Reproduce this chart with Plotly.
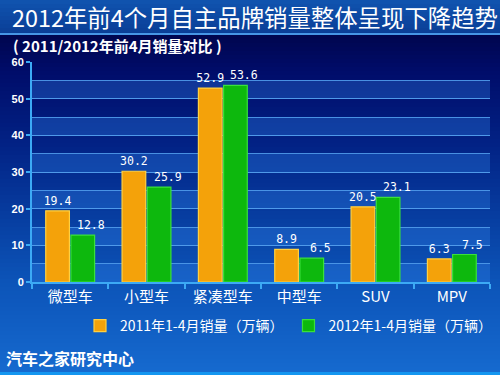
import plotly.graph_objects as go

categories = ["微型车", "小型车", "紧凑型车", "中型车", "SUV", "MPV"]
sales_2011 = [19.4, 30.2, 52.9, 8.9, 20.5, 6.3]
sales_2012 = [12.8, 25.9, 53.6, 6.5, 23.1, 7.5]
series_names = ["2011年1-4月销量（万辆）", "2012年1-4月销量（万辆）"]
y_ticks = [0, 10, 20, 30, 40, 50, 60]

W, H = 500, 375
L, R, T, B = 32, 10, 62, 93
PW, PH = W - L - R, H - T - B


def px_x(px):
    return (px - L) / PW


def px_y(py):
    return (H - B - py) / PH


def lerp_color(stops, py):
    for (y0, c0), (y1, c1) in zip(stops, stops[1:]):
        if y0 <= py <= y1:
            t = (py - y0) / (y1 - y0)
            return "rgb(%d,%d,%d)" % tuple(round(a + (b - a) * t) for a, b in zip(c0, c1))
    return "rgb(%d,%d,%d)" % stops[-1][1]


bg_stops = [
    (35, (0, 6, 78)),
    (70, (0, 12, 105)),
    (150, (2, 36, 135)),
    (230, (8, 66, 165)),
    (282, (12, 84, 184)),
    (330, (17, 95, 196)),
    (375, (22, 106, 208)),
]
title_stops = [(0, (16, 84, 176)), (33, (10, 62, 150))]

shapes = []
step = 4
for py in range(0, 34, step):
    shapes.append(dict(type="rect", xref="paper", yref="paper", layer="below",
                       x0=px_x(-5), x1=px_x(W + 5), y0=px_y(py + step + 0.5), y1=px_y(py),
                       fillcolor=lerp_color(title_stops, py + step / 2), line=dict(width=0)))
for py in range(35, H, step):
    shapes.append(dict(type="rect", xref="paper", yref="paper", layer="below",
                       x0=px_x(-5), x1=px_x(W + 5), y0=px_y(py + step + 0.5), y1=px_y(py),
                       fillcolor=lerp_color(bg_stops, py + step / 2), line=dict(width=0)))
shapes.append(dict(type="rect", xref="paper", yref="paper", layer="below",
                   x0=px_x(-5), x1=px_x(W + 5), y0=px_y(35), y1=px_y(33),
                   fillcolor="rgb(70,150,230)", line=dict(width=0)))
shapes.append(dict(type="rect", xref="paper", yref="paper", layer="below",
                   x0=px_x(-5), x1=px_x(W + 5), y0=px_y(H + 2), y1=px_y(372),
                   fillcolor="rgb(20,150,240)", line=dict(width=0)))
for k in range(0, 60, 10):
    shapes.append(dict(type="rect", xref="paper", yref="y", layer="below",
                       x0=0, x1=1, y0=k, y1=k + 5,
                       fillcolor="rgba(45,125,230,0.35)", line=dict(width=0)))

label_font = dict(family="DejaVu Sans Mono", size=11.5, color="white")

fig = go.Figure()
fig.add_trace(go.Bar(
    x=categories, y=sales_2011, name=series_names[0],
    marker=dict(color="#F4A20A", line=dict(color="#FFD040", width=1.2)),
    text=[f"{v:.1f}" for v in sales_2011], textposition="outside",
    textfont=label_font, constraintext="none", cliponaxis=False,
))
fig.add_trace(go.Bar(
    x=categories, y=sales_2012, name=series_names[1],
    marker=dict(color="#0DB80D", line=dict(color="#3AE03A", width=1.2)),
    cliponaxis=False,
))

# value labels of the 2012 series sit slightly right of their bars, as in the original
annotations = [
    dict(x=c, y=v, xref="x", yref="y", text=f"{v:.1f}", showarrow=False,
         xanchor="center", yanchor="bottom", xshift=21, yshift=1,
         font=label_font)
    for c, v in zip(categories, sales_2012)
]
annotations += [
    dict(text="2012年前4个月自主品牌销量整体呈现下降趋势", xref="paper", yref="paper",
         x=px_x(10), y=px_y(17), xanchor="left", yanchor="middle", showarrow=False,
         font=dict(size=23.4, color="white", family="Noto Sans CJK SC")),
    dict(text="<b>( 2011/2012年前4月销量对比 )</b>", xref="paper", yref="paper",
         x=px_x(11), y=px_y(46), xanchor="left", yanchor="middle", showarrow=False,
         font=dict(size=15, color="white", family="Noto Sans CJK SC")),
    dict(text="<b>汽车之家研究中心</b>", xref="paper", yref="paper",
         x=px_x(4), y=px_y(358), xanchor="left", yanchor="middle", showarrow=False,
         font=dict(size=16, color="white", family="Noto Sans CJK SC")),
]

axis_blue = "rgb(60,170,245)"
fig.update_layout(
    width=W, height=H,
    margin=dict(l=L, r=R, t=T, b=B, pad=0, autoexpand=False),
    paper_bgcolor="rgb(10,60,160)",
    plot_bgcolor="rgba(0,0,0,0)",
    barmode="group", bargap=0.34, bargroupgap=0.06,
    font=dict(family="Noto Sans CJK SC", color="white"),
    shapes=shapes,
    showlegend=True,
    legend=dict(orientation="h", x=px_x(497), xanchor="right", y=px_y(326), yanchor="middle",
                font=dict(size=14, color="white", family="Noto Sans CJK SC"),
                bgcolor="rgba(0,0,0,0)", itemwidth=30, traceorder="normal"),
    xaxis=dict(
        showline=True, linecolor=axis_blue, linewidth=2,
        ticks="outside", tickson="boundaries", ticklen=5, tickcolor=axis_blue, tickwidth=1.5,
        tickfont=dict(size=15, color="white", family="Noto Sans CJK SC"),
        showgrid=False, fixedrange=True, automargin=False,
    ),
    yaxis=dict(
        range=[0, 60], tickvals=y_ticks, ticktext=[f"<b>{v}</b>" for v in y_ticks],
        showline=True, linecolor=axis_blue, linewidth=2,
        ticks="outside", ticklen=4, tickcolor=axis_blue, tickwidth=1.5,
        tickfont=dict(size=11, color="white", family="Liberation Sans"),
        showgrid=True, gridcolor="rgba(80,155,235,0.9)", gridwidth=1,
        minor=dict(dtick=5, showgrid=True, gridcolor="rgba(80,155,235,0.9)", gridwidth=1),
        zeroline=False, fixedrange=True, automargin=False,
    ),
    annotations=annotations,
)

fig.write_html("out.html", config={"displayModeBar": False},
               post_script="document.body.style.margin='0';document.body.style.overflow='hidden';")
